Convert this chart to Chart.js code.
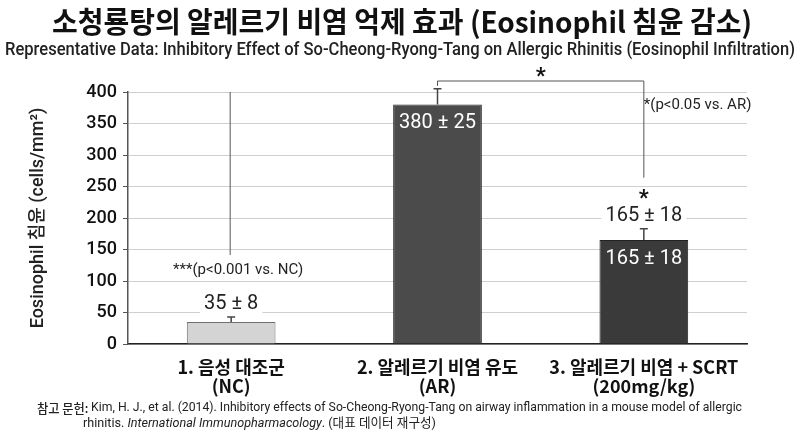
<!DOCTYPE html>
<html>
<head>
<meta charset="utf-8">
<script src="https://cdn.jsdelivr.net/npm/chart.js@4.4.1/dist/chart.umd.min.js"></script>
<style>
  html, body { margin: 0; padding: 0; background: #fff; }
  #wrap { width: 800px; height: 436px; }
</style>
</head>
<body>
<div id="wrap"><canvas id="barras" width="800" height="436"></canvas></div>
<script>
// data
const groups = [["1. 음성 대조군", "(NC)"], ["2. 알레르기 비염 유도", "(AR)"], ["3. 알레르기 비염 + SCRT", "(200mg/kg)"]];
const eosMean = [35, 380, 165];
const eosSD = [8, 25, 18];
const yMax = 400;
const yStep = 50;

const titleText = "소청룡탕의 알레르기 비염 억제 효과 (Eosinophil 침윤 감소)";
const subtitleText = "Representative Data: Inhibitory Effect of So-Cheong-Ryong-Tang on Allergic Rhinitis (Eosinophil Infiltration)";
const yTitle = "Eosinophil 침윤 (cells/mm²)";

const latin = "Roboto, 'Noto Sans CJK KR', sans-serif";
const kor = "'Noto Sans CJK KR', Roboto, sans-serif";

function pm(i) { return eosMean[i] + " ± " + eosSD[i]; }

// draw a line made of [text, font] pieces, squeezed to a width
function drawPieces(ctx, pieces, x, y, fitWidth) {
    let total = 0;
    pieces.forEach(p => { ctx.font = p[1]; total += ctx.measureText(p[0]).width; });
    const s = fitWidth ? fitWidth / total : 1;
    ctx.save();
    ctx.translate(x, y);
    ctx.scale(s, 1);
    let cx = 0;
    pieces.forEach(p => {
        ctx.font = p[1];
        ctx.fillText(p[0], cx, 0);
        cx += ctx.measureText(p[0]).width;
    });
    ctx.restore();
}

function labelBox(ctx, text, x, y, color) {
    const w = ctx.measureText(text).width;
    ctx.fillStyle = "#fff";
    ctx.fillRect(x - w / 2 - 4, y - 11, w + 8, 22);
    ctx.fillStyle = color;
    ctx.fillText(text, x, y);
}

const extras = {
    id: "extras",
    afterDatasetsDraw(chart) {
        const ctx = chart.ctx;
        const y = chart.scales.y;
        const area = chart.chartArea;
        const bars = chart.getDatasetMeta(0).data;

        // error bars
        ctx.save();
        ctx.strokeStyle = "#444";
        ctx.lineWidth = 1.5;
        bars.forEach((b, i) => {
            const top = y.getPixelForValue(eosMean[i]);
            const cap = y.getPixelForValue(eosMean[i] + eosSD[i]);
            ctx.beginPath();
            ctx.moveTo(b.x, top);
            ctx.lineTo(b.x, cap);
            ctx.moveTo(b.x - 4, cap);
            ctx.lineTo(b.x + 4, cap);
            ctx.stroke();
        });

        ctx.textAlign = "center";
        ctx.textBaseline = "middle";

        // value labels
        ctx.font = "20px " + latin;
        const lab0 = y.getPixelForValue(eosMean[0] + eosSD[0]) - 13;
        labelBox(ctx, pm(0), bars[0].x, lab0, "#222");
        const lab2 = y.getPixelForValue(eosMean[2] + eosSD[2]) - 13;
        labelBox(ctx, pm(2), bars[2].x, lab2, "#222");
        ctx.fillStyle = "#fff";
        ctx.fillText(pm(1), bars[1].x, y.getPixelForValue(eosMean[1]) + 18);
        ctx.fillText(pm(2), bars[2].x, y.getPixelForValue(eosMean[2]) + 19);

        // NC annotation with its line
        const ncY = lab0 - 34;
        ctx.strokeStyle = "#555";
        ctx.lineWidth = 1;
        ctx.beginPath();
        ctx.moveTo(bars[0].x - 1, area.top);
        ctx.lineTo(bars[0].x - 1, ncY - 15);
        ctx.stroke();
        ctx.font = "15px " + latin;
        labelBox(ctx, "***(p<0.001 vs. NC)", bars[0].x + 7, ncY, "#222");

        // bracket AR vs SCRT
        const brTop = area.top - 11;
        const starY = lab2 - 16;
        ctx.strokeStyle = "#555";
        ctx.beginPath();
        ctx.moveTo(bars[1].x, y.getPixelForValue(eosMean[1] + eosSD[1]) - 3);
        ctx.lineTo(bars[1].x, brTop);
        ctx.lineTo(bars[2].x, brTop);
        ctx.lineTo(bars[2].x, starY - 22);
        ctx.stroke();
        ctx.fillStyle = "#111";
        ctx.font = "bold 22px " + latin;
        ctx.fillText("*", (bars[1].x + bars[2].x) / 2, brTop - 4);
        ctx.fillText("*", bars[2].x, starY);

        ctx.font = "15px " + latin;
        ctx.textAlign = "left";
        ctx.fillStyle = "#222";
        ctx.fillText("*(p<0.05 vs. AR)", bars[2].x, area.top + 13);
        ctx.restore();
    },
    afterDraw(chart) {
        const ctx = chart.ctx;
        ctx.save();
        ctx.fillStyle = "#111";
        ctx.textBaseline = "middle";
        ctx.textAlign = "center";
        ctx.font = "bold 29px " + kor;
        ctx.fillText(titleText, 402, 22, 700);
        ctx.fillStyle = "#222";
        ctx.font = "500 19px " + latin;
        ctx.fillText(subtitleText, 400, 50, 790);

        // y axis title
        ctx.save();
        ctx.translate(38, 218);
        ctx.rotate(-Math.PI / 2);
        ctx.font = "500 18px " + latin;
        ctx.fillText(yTitle, 0, 0);
        ctx.restore();

        // reference
        ctx.textAlign = "left";
        ctx.fillStyle = "#222";
        const f = "13px " + latin;
        drawPieces(ctx, [["참고 문헌: ", "500 13px " + kor],
            ["Kim, H. J., et al. (2014). Inhibitory effects of So-Cheong-Ryong-Tang on airway inflammation in a mouse model of allergic", f]],
            37, 408, 705);
        drawPieces(ctx, [["rhinitis. ", f], ["International Immunopharmacology", "italic " + f], [". (대표 데이터 재구성)", f]],
            83, 424, 353);
        ctx.restore();
    }
};

new Chart(document.getElementById("barras"), {
    type: "bar",
    data: {
        labels: groups,
        datasets: [{
            data: eosMean,
            backgroundColor: ["#d4d4d4", "#4b4b4b", "#3a3a3a"],
            borderColor: ["#707070", "#2a2a2a", "#222222"],
            borderWidth: 1,
            barPercentage: 0.43,
            categoryPercentage: 1
        }]
    },
    options: {
        responsive: false,
        animation: false,
        layout: { padding: { top: 92, right: 53, bottom: 0, left: 0 } },
        plugins: {
            legend: { display: false },
            tooltip: { enabled: false }
        },
        scales: {
            x: {
                grid: { display: false },
                border: { color: "#222", width: 1.5 },
                ticks: {
                    color: "#111",
                    font: { family: kor, size: 18, weight: 600, lineHeight: 1.05 },
                    padding: 6,
                    maxRotation: 0
                },
                afterFit(s) { s.height = 92; }
            },
            y: {
                min: 0,
                max: yMax,
                ticks: {
                    stepSize: yStep,
                    color: "#111",
                    font: { family: latin, size: 18, weight: 500 },
                    padding: 6
                },
                grid: { color: "#cfcfcf", lineWidth: 1, tickLength: 5, tickColor: "#555" },
                border: { color: "#555", width: 1.5 },
                afterFit(s) { s.width = 128; }
            }
        }
    },
    plugins: [extras]
});
</script>
</body>
</html>
